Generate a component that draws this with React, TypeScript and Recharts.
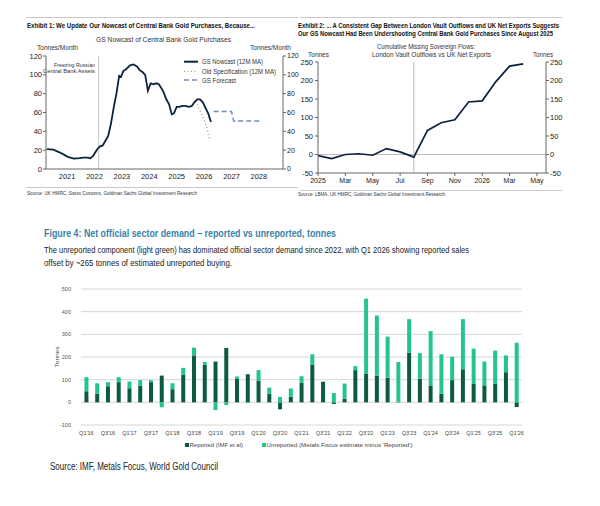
import React from "react";
import { LineChart, Line, XAxis, YAxis, ReferenceLine, BarChart, Bar, CartesianGrid } from "recharts";

const FONT = "'Liberation Sans', Arial, sans-serif";

// Exhibit 1: GS nowcast of CB gold purchases, tonnes/month (12M MA)
const nowcastYears = [
  2020.26, 2020.5, 2020.7, 2020.9, 2021.05, 2021.25, 2021.45, 2021.6, 2021.75, 2021.85, 2021.95,
  2022.1, 2022.2, 2022.3, 2022.4, 2022.5, 2022.6, 2022.7, 2022.8, 2022.9, 2022.97, 2023.05,
  2023.15, 2023.3, 2023.42, 2023.55, 2023.65, 2023.75, 2023.85, 2023.95, 2024.05, 2024.15,
  2024.25, 2024.35, 2024.5, 2024.62, 2024.72, 2024.82, 2024.9, 2025.0, 2025.1, 2025.2, 2025.3,
  2025.45, 2025.55, 2025.65, 2025.75, 2025.85, 2025.95, 2026.05, 2026.15, 2026.25,
];
const nowcastValues = [
  21, 20.5, 18, 15, 12.5, 11, 11.5, 12, 12, 11.5, 14,
  21, 24, 25, 30, 35, 48, 65, 80, 99, 98, 104,
  106, 110, 111, 109, 105, 103, 100, 83, 91, 90,
  91, 90, 83, 74, 69, 58, 59, 66, 66, 67, 67,
  66, 67, 71, 74, 74, 71, 65, 59, 50,
];
const oldSpecYears = [2025.7, 2025.85, 2026.0, 2026.1, 2026.2];
const oldSpecValues = [72, 62, 52, 44, 31];
const forecastYears = [2026.35, 2027.0, 2027.08, 2028.05];
const forecastValues = [61, 61, 51, 51];
const yearTicks = [2021, 2022, 2023, 2024, 2025, 2026, 2027, 2028];
const ex1Ticks = [0, 20, 40, 60, 80, 100, 120];

// Exhibit 2: cumulative missing sovereign flows, tonnes (month 0 = Jan 2025)
const flowMonths = [0, 1, 2, 3, 4, 5, 6, 7, 8, 9, 10, 11, 12, 13, 14, 15];
const flowValues = [-3, -11, 0, 2, -2, 16, 7, -7, 65, 86, 94, 142, 145, 197, 239, 245];
const monthTicks = [0, 2, 4, 6, 8, 10, 12, 14, 16];
const monthLabels = ["2025", "Mar", "May", "Jul", "Sep", "Nov", "2026", "Mar", "May"];
const ex2Ticks = [-50, 0, 50, 100, 150, 200, 250];

// Figure 4: net official sector demand, tonnes
const quarters = [
  "Q1'16", "Q2'16", "Q3'16", "Q4'16", "Q1'17", "Q2'17", "Q3'17", "Q4'17",
  "Q1'18", "Q2'18", "Q3'18", "Q4'18", "Q1'19", "Q2'19", "Q3'19", "Q4'19",
  "Q1'20", "Q2'20", "Q3'20", "Q4'20", "Q1'21", "Q2'21", "Q3'21", "Q4'21",
  "Q1'22", "Q2'22", "Q3'22", "Q4'22", "Q1'23", "Q2'23", "Q3'23", "Q4'23",
  "Q1'24", "Q2'24", "Q3'24", "Q4'24", "Q1'25", "Q2'25", "Q3'25", "Q4'25", "Q1'26",
];
const reported = [
  49, 38, 71, 89, 62, 74, 89, 118, 58, 121, 207, 166, 180, 240, 104, 124,
  96, 38, -31, 25, 87, 167, 90, -7, 16, 142, 127, 118, 109, 3, 219, 104,
  72, 38, 98, 146, 81, 75, 83, 133, -21,
];
const unreported = [
  62, 46, 18, 22, 30, 24, 9, -22, 26, 31, 34, 12, -34, -12, 10, -3,
  46, 27, 24, 36, 28, 45, 2, 41, 67, 18, 330, 265, 181, 175, 148, 113,
  242, 174, 103, 221, 156, 105, 145, 74, 263,
];
const fig4Ticks = [-100, 0, 100, 200, 300, 400, 500];

const NAVY = "#0c2340";
const DARK_GREEN = "#0d5a44";
const LIGHT_GREEN = "#24c48d";

const nowcastData = nowcastYears.map((t, i) => ({ t, v: nowcastValues[i] }));
const oldSpecData = oldSpecYears.map((t, i) => ({ t, v: oldSpecValues[i] }));
const forecastData = forecastYears.map((t, i) => ({ t, v: forecastValues[i] }));
const flowData = flowMonths.map((m, i) => ({ m, v: flowValues[i] }));
const fig4Data = quarters.map((q, i) => ({ q, reported: reported[i], unreported: unreported[i] }));

function T({ x, y, w, size, weight = 400, fill = "#222", anchor = "start", rotate, children }: any) {
  return (
    <text
      x={x}
      y={y}
      fontSize={size}
      fontWeight={weight}
      fill={fill}
      textAnchor={anchor}
      textLength={w}
      lengthAdjust="spacingAndGlyphs"
      fontFamily={FONT}
      transform={rotate ? `rotate(${rotate} ${x} ${y})` : undefined}
    >
      {children}
    </text>
  );
}

function Overlay() {
  return (
    <svg width={600} height={506} style={{ position: "absolute", left: 0, top: 0 }}>
      {/* exhibit 1 frame + text */}
      <line x1={26} y1={17.5} x2={298} y2={17.5} stroke="#c8c8c8" />
      <line x1={26} y1={187.5} x2={298} y2={187.5} stroke="#c8c8c8" />
      <T x={27} y={27.8} w={228} size={6.8} weight={700} fill="#111">
        Exhibit 1: We Update Our Nowcast of Central Bank Gold Purchases, Because...
      </T>
      <T x={96} y={42} w={135} size={8} fill="#333">GS Nowcast of Central Bank Gold Purchases</T>
      <T x={37} y={50} w={41} size={7.5} fill="#333">Tonnes/Month</T>
      <T x={250} y={50} w={41} size={7.5} fill="#333">Tonnes/Month</T>
      <line x1={184} y1={61.7} x2={198} y2={61.7} stroke={NAVY} strokeWidth={2} />
      <T x={202} y={64.3} w={61} size={7} fill="#333">GS Nowcast (12M MA)</T>
      <line x1={184} y1={71.3} x2={198} y2={71.3} stroke="#999" strokeWidth={1.3} strokeDasharray="1 2.5" />
      <T x={202} y={73.9} w={74} size={7} fill="#333">Old Specification (12M MA)</T>
      <line x1={184} y1={80} x2={198} y2={80} stroke="#6d8fb8" strokeWidth={1.5} strokeDasharray="5 3" />
      <T x={202} y={82.6} w={34} size={7} fill="#333">GS Forecast</T>
      <T x={95} y={67.3} w={41} size={6} fill="#333" anchor="end">Freezing Russian</T>
      <T x={95} y={73.3} w={52} size={6} fill="#333" anchor="end">Central Bank Assets</T>
      <T x={27} y={194.5} w={170} size={5} fill="#333">
        Source: UK HMRC, Swiss Customs, Goldman Sachs Global Investment Research
      </T>

      {/* exhibit 2 frame + text */}
      <line x1={300} y1={17.5} x2={562} y2={17.5} stroke="#c8c8c8" />
      <line x1={300} y1={190.5} x2={562} y2={190.5} stroke="#c8c8c8" />
      <T x={298} y={28.2} w={261} size={6.8} weight={700} fill="#111">
        Exhibit 2: ... A Consistent Gap Between London Vault Outflows and UK Net Exports Suggests
      </T>
      <T x={298} y={35.8} w={255} size={6.8} weight={700} fill="#111">
        Our GS Nowcast Had Been Undershooting Central Bank Gold Purchases Since August 2025
      </T>
      <T x={377} y={48.5} w={98} size={8} fill="#333">Cumulative Missing Sovereign Flows:</T>
      <T x={372} y={57} w={119} size={8} fill="#333">London Vault Outflows vs UK Net Exports</T>
      <T x={308} y={57} w={21} size={7.5} fill="#333">Tonnes</T>
      <T x={533} y={57} w={20} size={7.5} fill="#333">Tonnes</T>
      <T x={298} y={196} w={147} size={5} fill="#333">
        Source: LBMA, UK HMRC, Goldman Sachs Global Investment Research
      </T>

      {/* figure 4 text */}
      <T x={44} y={237} w={292} size={10.5} weight={700} fill="#3a82a8">
        Figure 4: Net official sector demand – reported vs unreported, tonnes
      </T>
      <T x={44} y={252.7} w={425} size={9} fill="#222">
        The unreported component (light green) has dominated official sector demand since 2022, with Q1 2026 showing reported sales
      </T>
      <T x={44} y={266.2} w={188} size={9} fill="#222">
        offset by ~265 tonnes of estimated unreported buying.
      </T>
      <T x={59} y={357} w={21} size={5} fill="#444" anchor="middle" rotate={-90}>Tonnes</T>
      <rect x={185} y={443} width={4} height={4} fill={DARK_GREEN} />
      <T x={189.5} y={446.8} w={53.5} size={5} fill="#444">Reported (IMF et al)</T>
      <rect x={262} y={443} width={4} height={4} fill={LIGHT_GREEN} />
      <T x={266.5} y={446.8} w={146} size={5} fill="#444">
        Unreported (Metals Focus estimate minus 'Reported')
      </T>
      <T x={50} y={470} w={168} size={10} fill="#222">Source: IMF, Metals Focus, World Gold Council</T>
    </svg>
  );
}

const tick75 = { fontSize: 7.5, fill: "#222", fontFamily: FONT };
const tick7 = { fontSize: 7, fill: "#222", fontFamily: FONT };

function NowcastChart() {
  return (
    <div style={{ position: "absolute", left: 26, top: 40 }}>
      <LineChart width={280} height={145} margin={{ top: 16, right: 0, left: 0, bottom: 0 }}>
        <XAxis
          type="number"
          dataKey="t"
          domain={[2020.23, 2028.88]}
          ticks={yearTicks}
          allowDataOverflow
          interval={0}
          height={16}
          tickLine={false}
          tickSize={3}
          tickMargin={2}
          stroke="#666"
          tick={tick75}
        />
        <YAxis yAxisId="l" domain={[0, 120]} ticks={ex1Ticks} interval={0} width={20} tickSize={3} tickMargin={1} stroke="#666" tick={tick75} />
        <YAxis yAxisId="r" orientation="right" domain={[0, 120]} ticks={ex1Ticks} interval={0} width={23} tickSize={3} tickMargin={1} stroke="#666" tick={tick7} />
        <ReferenceLine yAxisId="l" x={2022.15} stroke="#cfcfcf" strokeWidth={1.2} />
        <Line yAxisId="r" data={nowcastData} dataKey="v" stroke="none" dot={false} legendType="none" isAnimationActive={false} />
        <Line yAxisId="l" data={oldSpecData} dataKey="v" stroke="#999" strokeWidth={1.3} strokeDasharray="1 2.5" dot={false} isAnimationActive={false} />
        <Line yAxisId="l" data={forecastData} dataKey="v" stroke="#6d8fb8" strokeWidth={1.5} strokeDasharray="5 3" dot={false} isAnimationActive={false} />
        <Line yAxisId="l" data={nowcastData} dataKey="v" stroke={NAVY} strokeWidth={1.8} dot={false} isAnimationActive={false} />
      </LineChart>
    </div>
  );
}

function FlowsChart() {
  return (
    <div style={{ position: "absolute", left: 298, top: 46 }}>
      <LineChart width={270} height={141} data={flowData} margin={{ top: 16, right: 0, left: 0, bottom: 0 }}>
        <XAxis
          type="number"
          dataKey="m"
          domain={[0, 16.66]}
          ticks={monthTicks}
          allowDataOverflow
          interval={0}
          height={14}
          tickSize={3}
          tickMargin={2}
          stroke="#666"
          tick={tick7}
          tickFormatter={(v: number) => monthLabels[monthTicks.indexOf(v)]}
        />
        <YAxis yAxisId="l" domain={[-50, 250]} ticks={ex2Ticks} interval={0} width={20} tickSize={3} tickMargin={2} stroke="#666" tick={tick75} />
        <YAxis yAxisId="r" orientation="right" domain={[-50, 250]} ticks={ex2Ticks} interval={0} width={22} tickSize={3} tickMargin={1} stroke="#666" tick={tick75} />
        <ReferenceLine yAxisId="l" y={0} stroke="#bdbdbd" />
        <ReferenceLine yAxisId="l" x={7} stroke="#bdbdbd" />
        <Line yAxisId="r" dataKey="v" stroke="none" dot={false} legendType="none" isAnimationActive={false} />
        <Line yAxisId="l" dataKey="v" stroke={NAVY} strokeWidth={1.7} dot={false} isAnimationActive={false} />
      </LineChart>
    </div>
  );
}

function OfficialDemandChart() {
  return (
    <div style={{ position: "absolute", left: 50, top: 280 }}>
      <BarChart
        width={480}
        height={161}
        data={fig4Data}
        stackOffset="sign"
        barCategoryGap="32%"
        margin={{ top: 9, right: 8, left: 0, bottom: 0 }}
      >
        <CartesianGrid vertical={false} stroke="#d6d6d6" />
        <XAxis
          dataKey="q"
          interval={1}
          height={16}
          axisLine={false}
          tickLine={false}
          tickSize={0}
          tickMargin={6}
          tick={{ fontSize: 5.5, fill: "#444", fontFamily: FONT }}
        />
        <YAxis
          domain={[-100, 500]}
          ticks={fig4Ticks}
          interval={0}
          width={31}
          axisLine={false}
          tickLine={false}
          tickSize={0}
          tickMargin={10}
          tick={{ fontSize: 5.5, fill: "#555", fontFamily: FONT }}
        />
        <Bar dataKey="reported" stackId="a" fill={DARK_GREEN} isAnimationActive={false} />
        <Bar dataKey="unreported" stackId="a" fill={LIGHT_GREEN} isAnimationActive={false} />
      </BarChart>
    </div>
  );
}

export default function App() {
  return (
    <div style={{ position: "absolute", left: 0, top: 0, width: 600, height: 506, background: "#fff", overflow: "hidden" }}>
      <Overlay />
      <NowcastChart />
      <FlowsChart />
      <OfficialDemandChart />
    </div>
  );
}
